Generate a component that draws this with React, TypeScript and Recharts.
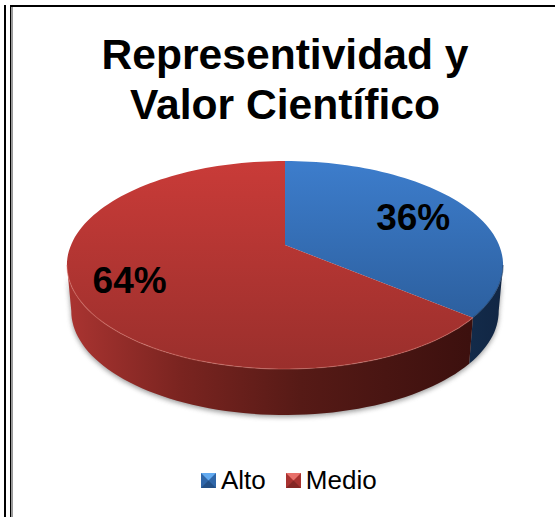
import { PieChart, Pie, Legend } from 'recharts';

const names = ['Alto', 'Medio'];
const values = [36, 64];
const titleLines = ['Representividad y', 'Valor Científico'];

const chartData = names.map((name, i) => ({ name, value: values[i] }));

const topFills = ['url(#topBlue)', 'url(#topRed)'];
const wallFills = ['url(#wallBlue)', 'url(#wallRed)'];
const rimColors = ['rgba(20,45,80,0.5)', 'rgba(235,140,130,0.38)'];
const markerColors = [
  { base: '#2f66a8', light: '#62aaf0', dark: '#234f85' },
  { base: '#a83230', light: '#e8706a', dark: '#842624' },
];

// the pie is drawn lying down, seen in perspective
const TILT = -0.1923;
const SQUASH = 0.2479;
const DEPTH = 46;
const WALL_SCALE = 0.98;
const RIGHT_EDGE = -11.09;
const LEFT_EDGE = -168.91;

// rim position, y measured from the apex with the same projective divide
const rimPoint = (cx: number, cy: number, r: number, angle: number, k = 1) => {
  const rad = (angle * Math.PI) / 180;
  const u = Math.cos(rad) * k;
  const v = -Math.sin(rad) * k;
  const d = 1 + TILT * v;
  return { x: cx + (r * u) / d, y: (r * SQUASH * v + cy) / d };
};

const arcPoints = (cx: number, cy: number, r: number, from: number, to: number) => {
  const steps = Math.max(2, Math.ceil(Math.abs(to - from) / 2));
  const pts = [];
  for (let i = 0; i <= steps; i++) {
    pts.push(rimPoint(cx, cy, r, from + ((to - from) * i) / steps));
  }
  return pts;
};

const toPath = (pts: { x: number; y: number }[]) =>
  pts.map((p, i) => `${i ? 'L' : 'M'}${p.x.toFixed(1)} ${p.y.toFixed(1)}`).join(' ');

const lowered = (cx: number) => (p: { x: number; y: number }) => ({
  x: cx + (p.x - cx) * WALL_SCALE,
  y: p.y + DEPTH,
});

const frontRange = (start: number, end: number) => {
  const from = Math.min(start, RIGHT_EDGE);
  const to = Math.max(end, LEFT_EDGE);
  return from > to ? [from, to] : null;
};

const TopShape = (props: any) => {
  const { cx, cy, outerRadius, startAngle, endAngle, name } = props;
  const i = names.indexOf(name);
  const pts = arcPoints(cx, cy, outerRadius, startAngle, endAngle);
  const range = frontRange(startAngle, endAngle);
  return (
    <g>
      <path d={`M${cx} ${cy} ${toPath(pts).replace('M', 'L')} Z`} fill={topFills[i]} />
      {range && (
        <path
          d={toPath(arcPoints(cx, cy, outerRadius, range[0], range[1]))}
          fill="none"
          stroke={rimColors[i]}
          strokeWidth={1.2}
        />
      )}
    </g>
  );
};

const WallShape = (props: any) => {
  const { cx, cy, outerRadius, startAngle, endAngle, name } = props;
  const range = frontRange(startAngle, endAngle);
  if (!range) return <g />;
  const upper = arcPoints(cx, cy, outerRadius, range[0], range[1]);
  const lower = upper.map(lowered(cx)).reverse();
  return <path d={`${toPath(upper)} ${toPath(lower).replace('M', 'L')} Z`} fill={wallFills[names.indexOf(name)]} />;
};

const ShadowShape = (props: any) => {
  const { cx, cy, outerRadius, startAngle, endAngle } = props;
  const range = frontRange(startAngle, endAngle);
  if (!range) return <g />;
  const upper = arcPoints(cx, cy, outerRadius, range[0], range[1]);
  const lower = upper.map(lowered(cx)).reverse();
  return (
    <path
      d={`${toPath(upper)} ${toPath(lower).replace('M', 'L')} Z`}
      fill="#707070"
      opacity={0.7}
      filter="url(#softShadow)"
      transform="translate(0 2)"
    />
  );
};

const renderLabel = (props: any) => {
  const { cx, cy, outerRadius, midAngle, percent, index } = props;
  const p = rimPoint(cx, cy, outerRadius, midAngle, index === 0 ? 0.7 : 0.753);
  return (
    <text
      x={p.x}
      y={p.y + 1}
      textAnchor="middle"
      dominantBaseline="central"
      fontFamily="'Liberation Sans', Arial, sans-serif"
      fontWeight="bold"
      fontSize={37}
      fill="#000"
    >
      {`${Math.round(percent * 100)}%`}
    </text>
  );
};

const LegendMarker = ({ index }: { index: number }) => {
  const c = markerColors[index];
  return (
    <svg width={15} height={15} style={{ display: 'block', marginRight: 5 }}>
      <rect width={15} height={15} fill={c.base} />
      <path d="M0 0 H15 L7.5 7.5 Z" fill={c.light} />
      <path d="M0 15 H15 L7.5 7.5 Z" fill={c.dark} />
    </svg>
  );
};

const renderLegend = () => (
  <div
    style={{
      display: 'flex',
      alignItems: 'center',
      fontFamily: "'Liberation Sans', Arial, sans-serif",
      fontSize: 26,
      lineHeight: '30px',
      color: '#000',
      paddingLeft: 201,
    }}
  >
    {names.map((name, i) => (
      <div key={name} style={{ display: 'flex', alignItems: 'center', marginRight: 20 }}>
        <LegendMarker index={i} />
        <span>{name}</span>
      </div>
    ))}
  </div>
);

const frameLine = (left: number, top: number, width: number, height: number, background = '#000') => (
  <div style={{ position: 'absolute', left, top, width, height, background }} />
);

const App = () => (
  <div style={{ position: 'absolute', left: 0, top: 0, width: 555, height: 517, background: '#fff', overflow: 'hidden' }}>
    {frameLine(4, 5, 2, 512)}
    {frameLine(10, 5, 1, 512)}
    {frameLine(11, 7, 2, 510, '#9a9a9a')}
    {frameLine(10, 5, 545, 2)}
    <div style={{ position: 'absolute', left: 0, top: 0 }}>
      <PieChart width={555} height={517} margin={{ top: 0, right: 0, bottom: 0, left: 0 }}>
        <defs>
          <linearGradient id="topBlue" gradientUnits="userSpaceOnUse" x1="0" y1="161" x2="0" y2="320">
            <stop offset="0%" stopColor="#3d7dcc" />
            <stop offset="100%" stopColor="#2c5f9e" />
          </linearGradient>
          <linearGradient id="topRed" gradientUnits="userSpaceOnUse" x1="0" y1="161" x2="0" y2="368">
            <stop offset="0%" stopColor="#c93b38" />
            <stop offset="100%" stopColor="#9a2f2c" />
          </linearGradient>
          <linearGradient id="wallRed" gradientUnits="userSpaceOnUse" x1="68" y1="0" x2="470" y2="0">
            <stop offset="0%" stopColor="#aa3431" />
            <stop offset="28%" stopColor="#7a2420" />
            <stop offset="58%" stopColor="#561a16" />
            <stop offset="100%" stopColor="#3c100e" />
          </linearGradient>
          <linearGradient id="wallBlue" gradientUnits="userSpaceOnUse" x1="468" y1="0" x2="503" y2="0">
            <stop offset="0%" stopColor="#132b4a" />
            <stop offset="100%" stopColor="#112644" />
          </linearGradient>
          <filter id="softShadow" x="-10%" y="-30%" width="120%" height="160%">
            <feGaussianBlur stdDeviation="2.5" />
          </filter>
        </defs>
        {titleLines.map((line, i) => (
          <text
            key={line}
            x={285}
            y={69 + i * 50}
            textAnchor="middle"
            fontFamily="'Liberation Sans', Arial, sans-serif"
            fontWeight="bold"
            fontSize={42.6}
            fill="#000"
          >
            {line}
          </text>
        ))}
        <Pie
          data={chartData}
          dataKey="value"
          nameKey="name"
          cx={285}
          cy={245}
          outerRadius={214}
          startAngle={90}
          endAngle={-270}
          stroke="none"
          legendType="none"
          shape={ShadowShape}
          isAnimationActive={false}
        />
        <Pie
          data={chartData}
          dataKey="value"
          nameKey="name"
          cx={285}
          cy={245}
          outerRadius={214}
          startAngle={90}
          endAngle={-270}
          stroke="none"
          legendType="none"
          shape={WallShape}
          isAnimationActive={false}
        />
        <Pie
          data={chartData}
          dataKey="value"
          nameKey="name"
          cx={285}
          cy={245}
          outerRadius={214}
          startAngle={90}
          endAngle={-270}
          stroke="none"
          shape={TopShape}
          label={renderLabel}
          labelLine={false}
          isAnimationActive={false}
        />
        <Legend content={renderLegend} wrapperStyle={{ position: 'absolute', left: 0, top: 465, width: 555 }} />
      </PieChart>
    </div>
  </div>
);

export default App;
